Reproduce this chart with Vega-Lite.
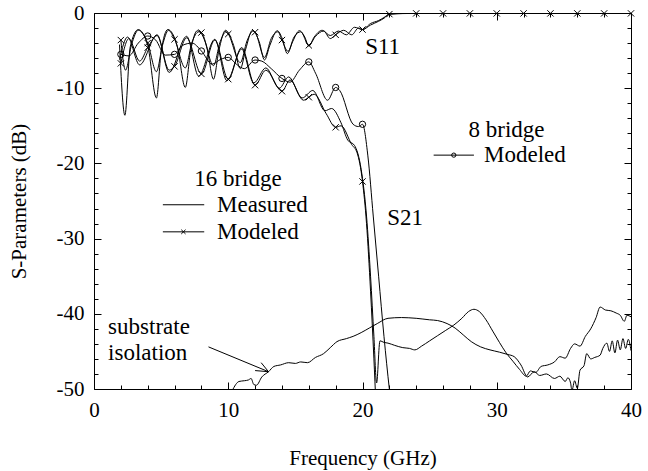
{
  "$schema": "https://vega.github.io/schema/vega-lite/v6.json",
  "width": 537,
  "height": 376,
  "autosize": {"type": "none"},
  "padding": {"left": 94, "top": 13, "right": 17, "bottom": 82},
  "background": "white",
  "config": {
    "view": {"stroke": null},
    "font": "Liberation Serif",
    "axis": {
      "labelFont": "Liberation Serif",
      "titleFont": "Liberation Serif",
      "labelFontSize": 21,
      "titleFontSize": 21,
      "titleFontWeight": "normal",
      "labelColor": "black",
      "titleColor": "black",
      "domainColor": "black",
      "tickColor": "black",
      "domainWidth": 1,
      "tickWidth": 1,
      "grid": false,
      "labelFlush": false,
      "labelOverlap": false
    }
  },
  "datasets": {
    "curves": [
      {"s": "m11", "f": 1.9, "db": -4.2},
      {"s": "m11", "f": 2.3, "db": -13.6},
      {"s": "m11", "f": 2.7, "db": -4.5},
      {"s": "m11", "f": 3.3, "db": -2.2},
      {"s": "m11", "f": 4.0, "db": -4.3},
      {"s": "m11", "f": 4.65, "db": -11.3},
      {"s": "m11", "f": 5.0, "db": -5.2},
      {"s": "m11", "f": 5.5, "db": -2.2},
      {"s": "m11", "f": 6.2, "db": -4.4},
      {"s": "m11", "f": 6.8, "db": -9.9},
      {"s": "m11", "f": 7.2, "db": -5.0},
      {"s": "m11", "f": 7.7, "db": -2.35},
      {"s": "m11", "f": 8.4, "db": -4.5},
      {"s": "m11", "f": 8.9, "db": -8.8},
      {"s": "m11", "f": 9.3, "db": -5.0},
      {"s": "m11", "f": 9.8, "db": -2.3},
      {"s": "m11", "f": 10.4, "db": -4.3},
      {"s": "m11", "f": 10.9, "db": -7.4},
      {"s": "m11", "f": 11.3, "db": -4.8},
      {"s": "m11", "f": 11.8, "db": -2.3},
      {"s": "m11", "f": 12.3, "db": -3.8},
      {"s": "m11", "f": 12.7, "db": -6.25},
      {"s": "m11", "f": 13.1, "db": -4.3},
      {"s": "m11", "f": 13.65, "db": -2.35},
      {"s": "m11", "f": 14.0, "db": -3.3},
      {"s": "m11", "f": 14.4, "db": -5.4},
      {"s": "m11", "f": 14.8, "db": -3.8},
      {"s": "m11", "f": 15.3, "db": -2.35},
      {"s": "m11", "f": 15.7, "db": -3.2},
      {"s": "m11", "f": 16.0, "db": -4.4},
      {"s": "m11", "f": 16.4, "db": -3.2},
      {"s": "m11", "f": 17.0, "db": -2.3},
      {"s": "m11", "f": 17.6, "db": -3.0},
      {"s": "m11", "f": 18.2, "db": -2.4},
      {"s": "m11", "f": 18.8, "db": -2.9},
      {"s": "m11", "f": 19.4, "db": -1.9},
      {"s": "m11", "f": 20.0, "db": -2.2},
      {"s": "m11", "f": 20.6, "db": -1.4},
      {"s": "m11", "f": 21.2, "db": -1.0},
      {"s": "m11", "f": 21.6, "db": -0.6},
      {"s": "m11", "f": 22.0, "db": -0.15},
      {"s": "m11", "f": 23.0, "db": -0.05},
      {"s": "m11", "f": 40.0, "db": -0.05},

      {"s": "x11", "f": 2.0, "db": -3.6, "mk": "x"},
      {"s": "x11", "f": 2.35, "db": -7.6},
      {"s": "x11", "f": 2.8, "db": -4.2},
      {"s": "x11", "f": 3.3, "db": -2.3},
      {"s": "x11", "f": 4.0, "db": -4.0, "mk": "x"},
      {"s": "x11", "f": 4.65, "db": -7.8},
      {"s": "x11", "f": 5.1, "db": -4.3},
      {"s": "x11", "f": 5.55, "db": -2.3},
      {"s": "x11", "f": 6.0, "db": -3.5, "mk": "x"},
      {"s": "x11", "f": 6.8, "db": -7.3},
      {"s": "x11", "f": 7.3, "db": -3.9},
      {"s": "x11", "f": 7.8, "db": -2.5},
      {"s": "x11", "f": 8.0, "db": -2.6, "mk": "x"},
      {"s": "x11", "f": 8.9, "db": -7.0},
      {"s": "x11", "f": 9.4, "db": -3.8},
      {"s": "x11", "f": 9.85, "db": -2.5},
      {"s": "x11", "f": 10.0, "db": -2.8, "mk": "x"},
      {"s": "x11", "f": 10.9, "db": -6.6},
      {"s": "x11", "f": 11.4, "db": -3.7},
      {"s": "x11", "f": 11.85, "db": -2.4},
      {"s": "x11", "f": 12.0, "db": -2.55, "mk": "x"},
      {"s": "x11", "f": 12.7, "db": -5.9},
      {"s": "x11", "f": 13.2, "db": -3.4},
      {"s": "x11", "f": 13.7, "db": -2.5},
      {"s": "x11", "f": 14.0, "db": -3.6, "mk": "x"},
      {"s": "x11", "f": 14.45, "db": -5.1},
      {"s": "x11", "f": 14.9, "db": -3.2},
      {"s": "x11", "f": 15.4, "db": -2.5},
      {"s": "x11", "f": 16.0, "db": -4.3, "mk": "x"},
      {"s": "x11", "f": 16.5, "db": -3.1},
      {"s": "x11", "f": 17.1, "db": -2.4},
      {"s": "x11", "f": 17.6, "db": -3.4},
      {"s": "x11", "f": 18.0, "db": -2.9, "mk": "x"},
      {"s": "x11", "f": 18.6, "db": -2.3},
      {"s": "x11", "f": 19.2, "db": -2.9},
      {"s": "x11", "f": 19.7, "db": -2.0},
      {"s": "x11", "f": 20.0, "db": -2.2, "mk": "x"},
      {"s": "x11", "f": 20.6, "db": -1.6},
      {"s": "x11", "f": 21.2, "db": -1.1},
      {"s": "x11", "f": 21.6, "db": -0.7},
      {"s": "x11", "f": 22.0, "db": -0.15, "mk": "x"},
      {"s": "x11", "f": 24.0, "db": -0.05, "mk": "x"},
      {"s": "x11", "f": 26.0, "db": -0.05, "mk": "x"},
      {"s": "x11", "f": 28.0, "db": -0.05, "mk": "x"},
      {"s": "x11", "f": 30.0, "db": -0.05, "mk": "x"},
      {"s": "x11", "f": 32.0, "db": -0.05, "mk": "x"},
      {"s": "x11", "f": 34.0, "db": -0.05, "mk": "x"},
      {"s": "x11", "f": 36.0, "db": -0.05, "mk": "x"},
      {"s": "x11", "f": 38.0, "db": -0.05, "mk": "x"},
      {"s": "x11", "f": 40.0, "db": -0.05, "mk": "x"},

      {"s": "x21", "f": 2.0, "db": -6.7, "mk": "x"},
      {"s": "x21", "f": 2.6, "db": -3.4},
      {"s": "x21", "f": 3.4, "db": -6.4},
      {"s": "x21", "f": 4.0, "db": -4.6, "mk": "x"},
      {"s": "x21", "f": 4.7, "db": -3.0},
      {"s": "x21", "f": 5.6, "db": -7.6},
      {"s": "x21", "f": 6.0, "db": -7.1, "mk": "x"},
      {"s": "x21", "f": 6.9, "db": -3.3},
      {"s": "x21", "f": 8.0, "db": -8.1, "mk": "x"},
      {"s": "x21", "f": 9.0, "db": -3.6},
      {"s": "x21", "f": 10.0, "db": -8.8, "mk": "x"},
      {"s": "x21", "f": 11.0, "db": -4.6},
      {"s": "x21", "f": 12.0, "db": -9.6, "mk": "x"},
      {"s": "x21", "f": 12.8, "db": -7.6},
      {"s": "x21", "f": 14.0, "db": -10.4, "mk": "x"},
      {"s": "x21", "f": 14.6, "db": -8.9},
      {"s": "x21", "f": 15.6, "db": -11.6},
      {"s": "x21", "f": 16.0, "db": -11.2, "mk": "x"},
      {"s": "x21", "f": 16.4, "db": -10.8},
      {"s": "x21", "f": 17.3, "db": -13.4},
      {"s": "x21", "f": 18.0, "db": -15.2, "mk": "x"},
      {"s": "x21", "f": 18.4, "db": -15.0},
      {"s": "x21", "f": 19.2, "db": -17.5},
      {"s": "x21", "f": 19.6, "db": -18.6},
      {"s": "x21", "f": 20.0, "db": -22.4, "mk": "x"},
      {"s": "x21", "f": 20.3, "db": -28},
      {"s": "x21", "f": 20.6, "db": -37},
      {"s": "x21", "f": 20.85, "db": -46},
      {"s": "x21", "f": 21.0, "db": -52},

      {"s": "m21", "f": 1.9, "db": -6.2},
      {"s": "m21", "f": 2.5, "db": -3.2},
      {"s": "m21", "f": 3.4, "db": -6.9},
      {"s": "m21", "f": 4.7, "db": -2.9},
      {"s": "m21", "f": 5.6, "db": -7.9},
      {"s": "m21", "f": 6.9, "db": -3.1},
      {"s": "m21", "f": 7.8, "db": -8.4},
      {"s": "m21", "f": 9.0, "db": -3.5},
      {"s": "m21", "f": 9.9, "db": -9.0},
      {"s": "m21", "f": 11.0, "db": -4.8},
      {"s": "m21", "f": 11.9, "db": -9.3},
      {"s": "m21", "f": 12.8, "db": -7.3},
      {"s": "m21", "f": 13.8, "db": -10.0},
      {"s": "m21", "f": 14.5, "db": -8.5},
      {"s": "m21", "f": 15.5, "db": -11.3},
      {"s": "m21", "f": 16.3, "db": -10.3},
      {"s": "m21", "f": 17.2, "db": -13.0},
      {"s": "m21", "f": 17.7, "db": -12.7},
      {"s": "m21", "f": 18.4, "db": -14.6},
      {"s": "m21", "f": 18.9, "db": -16.9},
      {"s": "m21", "f": 19.4, "db": -17.6},
      {"s": "m21", "f": 19.9, "db": -20.8},
      {"s": "m21", "f": 20.3, "db": -27},
      {"s": "m21", "f": 20.6, "db": -35},
      {"s": "m21", "f": 20.85, "db": -43},
      {"s": "m21", "f": 21.05, "db": -49.2},
      {"s": "m21", "f": 21.3, "db": -43.6},
      {"s": "m21", "f": 21.6, "db": -43.8},
      {"s": "m21", "f": 21.9, "db": -43.9},
      {"s": "m21", "f": 22.4, "db": -44.2},
      {"s": "m21", "f": 23.0, "db": -44.5},
      {"s": "m21", "f": 23.5, "db": -44.6},
      {"s": "m21", "f": 23.9, "db": -44.8},
      {"s": "m21", "f": 24.4, "db": -44.3},
      {"s": "m21", "f": 25.0, "db": -43.6},
      {"s": "m21", "f": 25.6, "db": -42.9},
      {"s": "m21", "f": 26.2, "db": -42.2},
      {"s": "m21", "f": 26.8, "db": -41.5},
      {"s": "m21", "f": 27.4, "db": -40.6},
      {"s": "m21", "f": 27.9, "db": -39.7},
      {"s": "m21", "f": 28.3, "db": -39.4},
      {"s": "m21", "f": 28.7, "db": -39.7},
      {"s": "m21", "f": 29.2, "db": -40.8},
      {"s": "m21", "f": 29.7, "db": -42.3},
      {"s": "m21", "f": 30.2, "db": -43.8},
      {"s": "m21", "f": 30.7, "db": -45.2},
      {"s": "m21", "f": 31.2, "db": -46.3},
      {"s": "m21", "f": 31.7, "db": -47.4},
      {"s": "m21", "f": 32.2, "db": -48.3},
      {"s": "m21", "f": 32.5, "db": -47.6},
      {"s": "m21", "f": 32.9, "db": -47.8},
      {"s": "m21", "f": 33.3, "db": -47.0},
      {"s": "m21", "f": 33.8, "db": -46.8},
      {"s": "m21", "f": 34.3, "db": -46.4},
      {"s": "m21", "f": 34.7, "db": -45.7},
      {"s": "m21", "f": 35.1, "db": -45.9},
      {"s": "m21", "f": 35.5, "db": -44.6},
      {"s": "m21", "f": 35.8, "db": -44.0},
      {"s": "m21", "f": 36.2, "db": -44.3},
      {"s": "m21", "f": 36.6, "db": -43.0},
      {"s": "m21", "f": 37.0, "db": -42.0},
      {"s": "m21", "f": 37.4, "db": -40.5},
      {"s": "m21", "f": 37.7, "db": -39.1},
      {"s": "m21", "f": 38.1, "db": -39.5},
      {"s": "m21", "f": 38.5, "db": -39.6},
      {"s": "m21", "f": 38.9, "db": -39.9},
      {"s": "m21", "f": 39.2, "db": -40.2},
      {"s": "m21", "f": 39.5, "db": -41.0},
      {"s": "m21", "f": 39.7, "db": -40.2},
      {"s": "m21", "f": 40.0, "db": -40.4},

      {"s": "o21", "f": 2.0, "db": -5.5, "mk": "o"},
      {"s": "o21", "f": 2.6, "db": -5.7},
      {"s": "o21", "f": 3.3, "db": -4.0},
      {"s": "o21", "f": 4.0, "db": -3.06, "mk": "o"},
      {"s": "o21", "f": 4.6, "db": -3.6},
      {"s": "o21", "f": 5.3, "db": -5.6},
      {"s": "o21", "f": 6.0, "db": -5.5, "mk": "o"},
      {"s": "o21", "f": 6.6, "db": -4.3},
      {"s": "o21", "f": 7.3, "db": -4.0},
      {"s": "o21", "f": 8.0, "db": -5.05, "mk": "o"},
      {"s": "o21", "f": 8.8, "db": -6.8},
      {"s": "o21", "f": 9.4, "db": -6.2},
      {"s": "o21", "f": 10.0, "db": -5.9, "mk": "o"},
      {"s": "o21", "f": 10.6, "db": -6.8},
      {"s": "o21", "f": 11.2, "db": -7.4},
      {"s": "o21", "f": 12.0, "db": -6.25, "mk": "o"},
      {"s": "o21", "f": 12.5, "db": -6.4},
      {"s": "o21", "f": 13.2, "db": -7.4},
      {"s": "o21", "f": 14.0, "db": -8.7, "mk": "o"},
      {"s": "o21", "f": 14.6, "db": -9.2},
      {"s": "o21", "f": 15.3, "db": -7.6},
      {"s": "o21", "f": 16.0, "db": -6.5, "mk": "o"},
      {"s": "o21", "f": 16.5, "db": -8.0},
      {"s": "o21", "f": 17.4, "db": -11.6},
      {"s": "o21", "f": 18.0, "db": -9.9, "mk": "o"},
      {"s": "o21", "f": 18.3, "db": -10.3},
      {"s": "o21", "f": 19.3, "db": -14.8},
      {"s": "o21", "f": 19.7, "db": -15.1},
      {"s": "o21", "f": 20.0, "db": -14.8, "mk": "o"},
      {"s": "o21", "f": 20.4, "db": -19},
      {"s": "o21", "f": 20.8, "db": -27},
      {"s": "o21", "f": 21.2, "db": -35},
      {"s": "o21", "f": 21.6, "db": -43},
      {"s": "o21", "f": 22.0, "db": -50},
      {"s": "o21", "f": 22.2, "db": -53},

      {"s": "iso", "f": 10.3, "db": -50.2},
      {"s": "iso", "f": 10.8, "db": -49.0},
      {"s": "iso", "f": 11.2, "db": -48.9},
      {"s": "iso", "f": 11.5, "db": -48.8},
      {"s": "iso", "f": 11.7, "db": -48.6},
      {"s": "iso", "f": 11.9, "db": -49.4},
      {"s": "iso", "f": 12.1, "db": -49.5},
      {"s": "iso", "f": 12.5, "db": -48.4},
      {"s": "iso", "f": 13.0, "db": -47.7},
      {"s": "iso", "f": 13.4, "db": -47.0},
      {"s": "iso", "f": 13.9, "db": -46.8},
      {"s": "iso", "f": 14.5, "db": -46.5},
      {"s": "iso", "f": 15.0, "db": -46.6},
      {"s": "iso", "f": 15.4, "db": -46.4},
      {"s": "iso", "f": 15.9, "db": -46.5},
      {"s": "iso", "f": 16.5, "db": -45.8},
      {"s": "iso", "f": 17.1, "db": -45.3},
      {"s": "iso", "f": 17.6, "db": -44.5},
      {"s": "iso", "f": 18.1, "db": -43.7},
      {"s": "iso", "f": 18.8, "db": -43.3},
      {"s": "iso", "f": 19.3, "db": -43.0},
      {"s": "iso", "f": 19.9, "db": -42.5},
      {"s": "iso", "f": 20.5, "db": -41.9},
      {"s": "iso", "f": 21.1, "db": -41.3},
      {"s": "iso", "f": 21.9, "db": -40.6},
      {"s": "iso", "f": 22.9, "db": -40.5},
      {"s": "iso", "f": 24.0, "db": -40.6},
      {"s": "iso", "f": 25.0, "db": -40.8},
      {"s": "iso", "f": 25.6, "db": -40.9},
      {"s": "iso", "f": 26.3, "db": -41.3},
      {"s": "iso", "f": 26.9, "db": -41.9},
      {"s": "iso", "f": 27.5, "db": -42.8},
      {"s": "iso", "f": 28.1, "db": -43.7},
      {"s": "iso", "f": 28.8, "db": -44.4},
      {"s": "iso", "f": 29.5, "db": -44.8},
      {"s": "iso", "f": 30.2, "db": -45.1},
      {"s": "iso", "f": 30.8, "db": -45.4},
      {"s": "iso", "f": 31.3, "db": -45.7},
      {"s": "iso", "f": 31.8, "db": -46.8},
      {"s": "iso", "f": 32.3, "db": -48.4},
      {"s": "iso", "f": 32.8, "db": -47.7},
      {"s": "iso", "f": 33.2, "db": -48.2},
      {"s": "iso", "f": 33.7, "db": -48.0},
      {"s": "iso", "f": 34.3, "db": -48.6},
      {"s": "iso", "f": 34.7, "db": -48.3},
      {"s": "iso", "f": 35.1, "db": -49.0},
      {"s": "iso", "f": 35.3, "db": -48.5},
      {"s": "iso", "f": 35.5, "db": -49.2},
      {"s": "iso", "f": 35.6, "db": -50.2},
      {"s": "iso", "f": 35.8, "db": -48.9},
      {"s": "iso", "f": 36.0, "db": -49.9},
      {"s": "iso", "f": 36.2, "db": -47.5},
      {"s": "iso", "f": 36.5, "db": -46.9},
      {"s": "iso", "f": 36.7, "db": -45.3},
      {"s": "iso", "f": 37.0, "db": -46.0},
      {"s": "iso", "f": 37.3, "db": -45.8},
      {"s": "iso", "f": 37.7, "db": -45.5},
      {"s": "iso", "f": 37.9, "db": -44.6},
      {"s": "iso", "f": 38.2, "db": -43.9},
      {"s": "iso", "f": 38.4, "db": -45.0},
      {"s": "iso", "f": 38.6, "db": -43.6},
      {"s": "iso", "f": 38.8, "db": -45.2},
      {"s": "iso", "f": 39.0, "db": -43.5},
      {"s": "iso", "f": 39.2, "db": -44.8},
      {"s": "iso", "f": 39.4, "db": -43.3},
      {"s": "iso", "f": 39.6, "db": -44.6},
      {"s": "iso", "f": 39.8, "db": -43.4},
      {"s": "iso", "f": 40.0, "db": -44.9}
    ],
    "notes": [
      {"t": "S11", "f": 20.2, "db": -4.5},
      {"t": "S21", "f": 21.84, "db": -27.3},
      {"t": "Measured", "f": 9.16, "db": -25.5},
      {"t": "Modeled", "f": 9.16, "db": -29.1},
      {"t": "Modeled", "f": 29.05, "db": -18.9},
      {"t": "substrate", "f": 1.05, "db": -41.8},
      {"t": "isolation", "f": 1.05, "db": -45.2}
    ],
    "heads": [
      {"t": "16 bridge", "f": 10.72, "db": -22.1},
      {"t": "8 bridge", "f": 30.73, "db": -15.6}
    ],
    "keylines": [
      {"f": 5.13, "f2": 8.21, "db": -25.5, "db2": -25.5},
      {"f": 5.13, "f2": 8.21, "db": -29.1, "db2": -29.1},
      {"f": 25.3, "f2": 28.3, "db": -18.9, "db2": -18.9},
      {"f": 8.53, "f2": 13.0, "db": -44.4, "db2": -47.7},
      {"f": 12.45, "f2": 13.0, "db": -46.5, "db2": -47.7},
      {"f": 12.0, "f2": 13.0, "db": -47.55, "db2": -47.7}
    ],
    "keymarks": [
      {"f": 6.66, "db": -29.1, "mk": "x"},
      {"f": 26.8, "db": -18.9, "mk": "o"}
    ]
  },
  "resolve": {"axis": {"x": "independent", "y": "independent"}},
  "layer": [
    {
      "data": {"name": "curves"},
      "mark": {"type": "line", "interpolate": "monotone", "clip": true, "stroke": "black", "strokeWidth": 1},
      "encoding": {
        "x": {
          "field": "f", "type": "quantitative",
          "scale": {"domain": [0, 40], "nice": false, "zero": false},
          "axis": {
            "orient": "bottom",
            "title": "Frequency (GHz)",
            "values": [0, 2, 4, 6, 8, 10, 12, 14, 16, 18, 20, 22, 24, 26, 28, 30, 32, 34, 36, 38, 40],
            "labelExpr": "datum.value % 10 === 0 ? '' + datum.value : ''",
            "tickSize": -4,
            "labelPadding": 14,
            "titlePadding": 27
          }
        },
        "y": {
          "field": "db", "type": "quantitative",
          "scale": {"domain": [-50, 0], "nice": false, "zero": false},
          "axis": {
            "orient": "left",
            "title": "S-Parameters (dB)",
            "values": [-50, -48, -46, -44, -42, -40, -38, -36, -34, -32, -30, -28, -26, -24, -22, -20, -18, -16, -14, -12, -10, -8, -6, -4, -2, 0],
            "labelExpr": "datum.value % 10 === 0 ? '' + datum.value : ''",
            "tickSize": -4,
            "labelPadding": 14,
            "titlePadding": 27
          }
        },
        "detail": {"field": "s"}
      }
    },
    {
      "data": {"name": "curves"},
      "transform": [{"filter": "datum.mk != null"}],
      "mark": {"type": "point", "filled": false, "stroke": "black", "strokeWidth": 1, "size": 40, "opacity": 1},
      "encoding": {
        "x": {
          "field": "f", "type": "quantitative",
          "scale": {"domain": [0, 40], "nice": false, "zero": false},
          "axis": {
            "orient": "top", "title": null, "labels": false,
            "values": [0, 2, 4, 6, 8, 10, 12, 14, 16, 18, 20, 22, 24, 26, 28, 30, 32, 34, 36, 38, 40],
            "tickSize": -4
          }
        },
        "y": {
          "field": "db", "type": "quantitative",
          "scale": {"domain": [-50, 0], "nice": false, "zero": false},
          "axis": {
            "orient": "right", "title": null, "labels": false,
            "values": [-50, -48, -46, -44, -42, -40, -38, -36, -34, -32, -30, -28, -26, -24, -22, -20, -18, -16, -14, -12, -10, -8, -6, -4, -2, 0],
            "tickSize": -4
          }
        },
        "shape": {
          "field": "mk", "type": "nominal",
          "scale": {"domain": ["x", "o"], "range": ["M-1,-1L1,1M-1,1L1,-1", "circle"]},
          "legend": null
        }
      }
    },
    {
      "data": {"name": "keylines"},
      "mark": {"type": "rule", "stroke": "black", "strokeWidth": 1},
      "encoding": {
        "x": {
          "field": "f", "type": "quantitative",
          "scale": {"domain": [0, 40], "nice": false, "zero": false},
          "axis": {"orient": "bottom", "title": null, "labels": false, "domain": false, "values": [10, 20, 30], "tickSize": -7}
        },
        "x2": {"field": "f2"},
        "y": {
          "field": "db", "type": "quantitative",
          "scale": {"domain": [-50, 0], "nice": false, "zero": false},
          "axis": {"orient": "left", "title": null, "labels": false, "domain": false, "values": [-40, -30, -20, -10], "tickSize": -7}
        },
        "y2": {"field": "db2"}
      }
    },
    {
      "data": {"name": "keymarks"},
      "mark": {"type": "point", "filled": false, "stroke": "black", "strokeWidth": 1, "size": 18, "opacity": 1},
      "encoding": {
        "x": {
          "field": "f", "type": "quantitative",
          "scale": {"domain": [0, 40], "nice": false, "zero": false},
          "axis": {"orient": "top", "title": null, "labels": false, "domain": false, "values": [10, 20, 30], "tickSize": -7}
        },
        "y": {
          "field": "db", "type": "quantitative",
          "scale": {"domain": [-50, 0], "nice": false, "zero": false},
          "axis": {"orient": "right", "title": null, "labels": false, "domain": false, "values": [-40, -30, -20, -10], "tickSize": -7}
        },
        "shape": {
          "field": "mk", "type": "nominal",
          "scale": {"domain": ["x", "o"], "range": ["M-1,-1L1,1M-1,1L1,-1", "circle"]},
          "legend": null
        }
      }
    },
    {
      "data": {"name": "notes"},
      "mark": {"type": "text", "align": "left", "baseline": "middle", "font": "Liberation Serif", "fontSize": 23, "color": "black"},
      "encoding": {
        "x": {"field": "f", "type": "quantitative", "scale": {"domain": [0, 40], "nice": false, "zero": false}, "axis": null},
        "y": {"field": "db", "type": "quantitative", "scale": {"domain": [-50, 0], "nice": false, "zero": false}, "axis": null},
        "text": {"field": "t"}
      }
    },
    {
      "data": {"name": "heads"},
      "mark": {"type": "text", "align": "center", "baseline": "middle", "font": "Liberation Serif", "fontSize": 23, "color": "black"},
      "encoding": {
        "x": {"field": "f", "type": "quantitative", "scale": {"domain": [0, 40], "nice": false, "zero": false}, "axis": null},
        "y": {"field": "db", "type": "quantitative", "scale": {"domain": [-50, 0], "nice": false, "zero": false}, "axis": null},
        "text": {"field": "t"}
      }
    }
  ]
}
